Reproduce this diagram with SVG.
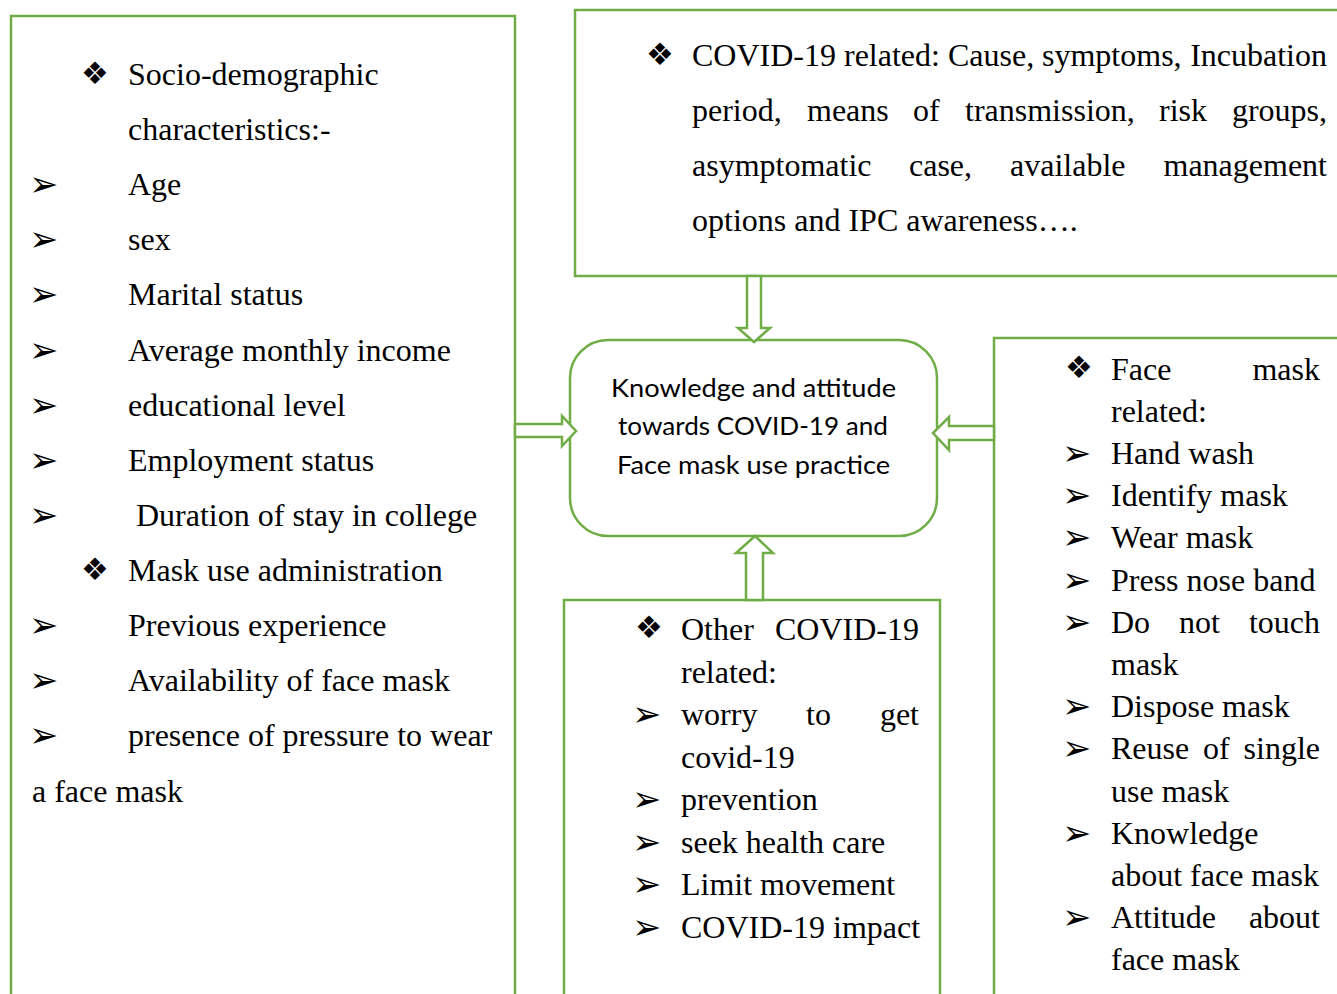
<svg xmlns="http://www.w3.org/2000/svg" width="1337" height="994" viewBox="0 0 1337 994">
<style>
.box{fill:none;stroke:#70AD47;stroke-width:2.5}
.cbox{fill:#ffffff;stroke:#70AD47;stroke-width:2.5}
.arr{fill:#ffffff;stroke:#70AD47;stroke-width:2.5;stroke-linejoin:miter}
.t{font-family:"Liberation Serif","Times New Roman",serif;font-size:32px;fill:#000}
.b{font-family:"DejaVu Sans",sans-serif;font-size:31px;fill:#000}
.a{font-family:"DejaVu Sans",sans-serif;font-size:35px;fill:#000}
.c{font-family:Lato,"Open Sans",sans-serif;font-size:25px;fill:#000;text-anchor:middle}
.e{text-anchor:end}
</style>
<rect width="1337" height="994" fill="#ffffff"/>

<g id="node-socio">
<rect class="box" x="11" y="16" width="504" height="1000"/>
<text class="b" x="81" y="84">❖</text><text class="t" x="128" y="85">Socio-demographic</text>
<text class="t" x="128" y="140.1">characteristics:-</text>
<text class="a" x="29" y="196.2">➢</text><text class="t" x="128" y="195.2">Age</text>
<text class="a" x="29" y="251.3">➢</text><text class="t" x="128" y="250.3">sex</text>
<text class="a" x="29" y="306.4">➢</text><text class="t" x="128" y="305.4">Marital status</text>
<text class="a" x="29" y="361.5">➢</text><text class="t" x="128" y="360.5">Average monthly income</text>
<text class="a" x="29" y="416.6">➢</text><text class="t" x="128" y="415.6">educational level</text>
<text class="a" x="29" y="471.7">➢</text><text class="t" x="128" y="470.7">Employment status</text>
<text class="a" x="29" y="526.8">➢</text><text class="t" x="136" y="525.8">Duration of stay in college</text>
<text class="b" x="81" y="579.9">❖</text><text class="t" x="128" y="580.9">Mask use administration</text>
<text class="a" x="29" y="637">➢</text><text class="t" x="128" y="636">Previous experience</text>
<text class="a" x="29" y="692.1">➢</text><text class="t" x="128" y="691.1">Availability of face mask</text>
<text class="a" x="29" y="747.2">➢</text><text class="t" x="128" y="746.2">presence of pressure to wear</text>
<text class="t" x="32" y="802">a face mask</text>
</g>

<g id="node-covid">
<rect class="box" x="575" y="10" width="780" height="266"/>
<text class="b" x="646" y="65">❖</text>
<text class="t" x="692" y="66">COVID-19</text><text class="t" x="844" y="66">related:</text><text class="t" x="948" y="66">Cause,</text><text class="t" x="1042" y="66">symptoms,</text><text class="t e" x="1327" y="66">Incubation</text>
<text class="t" x="692" y="121">period,</text><text class="t" x="807" y="121">means</text><text class="t" x="913" y="121">of</text><text class="t" x="965" y="121">transmission,</text><text class="t" x="1159" y="121">risk</text><text class="t e" x="1327" y="121">groups,</text>
<text class="t" x="692" y="176">asymptomatic</text><text class="t" x="909" y="176">case,</text><text class="t" x="1010" y="176">available</text><text class="t e" x="1327" y="176">management</text>
<text class="t" x="692" y="231">options and IPC awareness….</text>
</g>

<g id="node-center">
<rect class="cbox" x="570" y="340" width="367" height="196" rx="38" ry="38"/>
<text class="c" x="753.5" y="396.5" textLength="285" lengthAdjust="spacingAndGlyphs">Knowledge and attitude</text>
<text class="c" x="753" y="435" textLength="270" lengthAdjust="spacingAndGlyphs">towards COVID-19 and</text>
<text class="c" x="753.5" y="473.5" textLength="273" lengthAdjust="spacingAndGlyphs">Face mask use practice</text>
</g>

<g id="node-facemask">
<rect class="box" x="994" y="338" width="360" height="700"/>
<text class="b" x="1065" y="378">❖</text><text class="t" x="1111" y="379.5">Face</text><text class="t e" x="1320" y="379.5">mask</text>
<text class="t" x="1111" y="421.7">related:</text>
<text class="a" x="1062" y="464.9">➢</text><text class="t" x="1111" y="463.9">Hand wash</text>
<text class="a" x="1062" y="507.1">➢</text><text class="t" x="1111" y="506.1">Identify mask</text>
<text class="a" x="1062" y="549.3">➢</text><text class="t" x="1111" y="548.3">Wear mask</text>
<text class="a" x="1062" y="591.5">➢</text><text class="t" x="1111" y="590.5">Press nose band</text>
<text class="a" x="1062" y="633.7">➢</text><text class="t" x="1111" y="632.7">Do</text><text class="t" x="1179" y="632.7">not</text><text class="t e" x="1320" y="632.7">touch</text>
<text class="t" x="1111" y="674.9">mask</text>
<text class="a" x="1062" y="718.1">➢</text><text class="t" x="1111" y="717.1">Dispose mask</text>
<text class="a" x="1062" y="760.3">➢</text><text class="t" x="1111" y="759.3">Reuse</text><text class="t" x="1203" y="759.3">of</text><text class="t e" x="1320" y="759.3">single</text>
<text class="t" x="1111" y="801.5">use mask</text>
<text class="a" x="1062" y="844.7">➢</text><text class="t" x="1111" y="843.7">Knowledge</text>
<text class="t" x="1111" y="885.9">about face mask</text>
<text class="a" x="1062" y="929.1">➢</text><text class="t" x="1111" y="928.1">Attitude</text><text class="t e" x="1320" y="928.1">about</text>
<text class="t" x="1111" y="970.3">face mask</text>
</g>

<g id="node-other">
<rect class="box" x="564" y="600" width="376" height="420"/>
<text class="b" x="635" y="638">❖</text><text class="t" x="681" y="640">Other</text><text class="t e" x="919" y="640">COVID-19</text>
<text class="t" x="681" y="682.5">related:</text>
<text class="a" x="632" y="726">➢</text><text class="t" x="681" y="725">worry</text><text class="t" x="806" y="725">to</text><text class="t e" x="919" y="725">get</text>
<text class="t" x="681" y="767.5">covid-19</text>
<text class="a" x="632" y="811">➢</text><text class="t" x="681" y="810">prevention</text>
<text class="a" x="632" y="853.5">➢</text><text class="t" x="681" y="852.5">seek health care</text>
<text class="a" x="632" y="896">➢</text><text class="t" x="681" y="895">Limit movement</text>
<text class="a" x="632" y="938.5">➢</text><text class="t" x="681" y="937.5">COVID-19 impact</text>
</g>

<g id="connectors">
<polygon class="arr" points="747,276 761,276 761,328 770,328 754,342 738,328 747,328"/>
<polygon class="arr" points="515,424 562,424 562,416 576,431 562,446 562,437 515,437"/>
<polygon class="arr" points="994,426 949,426 949,417 933,433 949,450 949,440 994,440"/>
<polygon class="arr" points="746,600 746,553 736,553 755,536 773,553 763,553 763,600"/>
</g>
</svg>
